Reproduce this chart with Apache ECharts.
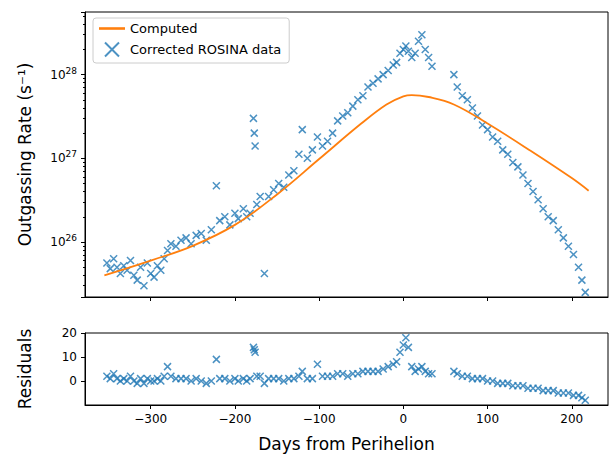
<!DOCTYPE html>
<html><head><meta charset="utf-8">
<script src="https://cdn.jsdelivr.net/npm/echarts@6/dist/echarts.min.js"></script>
<style>html,body{margin:0;background:#fff}#c{width:610px;height:455px}</style>
</head><body><div id="c"></div>
<script>
// ROSINA observations: day from perihelion, outgassing rate (s^-1), residual
const days = [-352,-348,-344,-340,-336,-332,-328,-324,-320,-316,-312,-308,-304,-300,-296,-292,-288,-284,-280,-276,-270,-264,-258,-252,-246,-240,-234,-228,-222,-218,-212,-206,-200,-196,-190,-186,-182,-178,-177,-176,-174,-170,-165,-160,-154,-148,-142,-136,-130,-124,-120,-114,-108,-102,-96,-90,-84,-78,-72,-66,-60,-54,-48,-42,-36,-30,-24,-18,-12,-8,-4,0,3,6,10,14,18,22,26,30,34,60,64,70,76,82,88,94,100,106,112,118,124,130,136,142,148,154,160,166,172,178,184,190,196,202,208,212,216];
const rates = [5.6e25,4.8e25,6.3e25,5.0e25,4.2e25,5.2e25,4.6e25,6.0e25,4.0e25,3.5e25,5.0e25,3.0e25,5.6e25,4.2e25,3.8e25,5.2e25,4.6e25,6.3e25,7.9e25,9.5e25,8.9e25,1.05e26,1.12e26,9.5e25,1.2e26,1.26e26,1.05e26,1.4e26,4.7e26,1.8e26,2.0e26,1.6e26,2.2e26,1.9e26,2.5e26,2.0e26,2.2e26,3.0e27,2.0e27,1.4e27,2.8e26,3.5e26,4.2e25,3.5e26,4.2e26,5.0e26,4.5e26,6.3e26,7.1e26,1.12e27,2.2e27,1.0e27,1.26e27,1.8e27,1.4e27,1.6e27,2.0e27,2.8e27,3.2e27,3.5e27,4.2e27,5.0e27,5.6e27,7.1e27,7.9e27,8.9e27,1.0e28,1.12e28,1.3e28,1.4e28,1.8e28,2.0e28,2.2e28,1.9e28,1.6e28,1.8e28,2.5e28,3.0e28,2.0e28,1.6e28,1.26e28,1.0e28,7.1e27,5.6e27,5.0e27,4.0e27,3.2e27,2.5e27,2.2e27,1.8e27,1.6e27,1.26e27,1.12e27,8.9e26,7.9e26,6.3e26,5.0e26,4.0e26,3.2e26,2.5e26,2.0e26,1.8e26,1.4e26,1.12e26,8.9e25,7.1e25,5.0e25,3.5e25,2.5e25];
const residuals = [2,1,3,1,0,1,0,2,0,-1,1,-1,1,0,0,1,0,2,6,2,1,1,1,0,1,0,-1,0,9,1,1,0,1,0,1,0,1,14,13,12,2,2,-1,1,1,1,0,1,1,2,4,1,1,7,2,2,2,3,3,2,3,3,4,4,4,4,5,6,7,8,12,15,18,14,6,4,5,6,4,3,3,4,3,2,2,1,1,1,0,0,-1,-1,-1,-2,-2,-2,-3,-3,-3,-4,-4,-4,-5,-5,-5,-6,-6,-7,-8];
// model curve
const modelDays = [-355,-300,-250,-200,-150,-100,-50,-20,0,10,30,60,100,150,200,220];
const modelRates = [4.0e25,6.0e25,9.0e25,1.6e26,3.7e26,9.8e26,2.6e27,4.4e27,5.5e27,5.7e27,5.4e27,4.4e27,2.6e27,1.25e27,5.8e26,4.1e26];
const xTicks = [-300,-200,-100,0,100,200];

const blue = '#1f77b4', orange = '#ff7f0e';
const xSym = 'path://M0,0L10,10M10,0L0,10M5,5Z';
const obs = days.map((d, i) => [d, rates[i]]);
const res = days.map((d, i) => [d, residuals[i]]);
const model = modelDays.map((d, i) => [d, modelRates[i]]);
const fmtX = v => String(v).replace('-', '\u2212');
const axLine = {show: true, onZero: false, lineStyle: {color: '#000'}};
const font = 'DejaVu Sans';

const chart = echarts.init(document.getElementById('c'), null, {renderer: 'svg'});
chart.setOption({
  textStyle: {fontFamily: font},
  animation: false,
  grid: [
    {left: 85, right: 2, top: 12, height: 285, show: true, borderColor: '#000', borderWidth: 1},
    {left: 85, right: 2, top: 333, height: 72, show: true, borderColor: '#000', borderWidth: 1}
  ],
  legend: {
    left: 93, top: 18, orient: 'vertical', itemGap: 5, itemWidth: 26,
    borderColor: '#ccc', borderWidth: 1, borderRadius: 3, padding: [4, 8, 4, 6],
    textStyle: {fontSize: 13, color: '#000', fontFamily: font},
    data: [{name: 'Computed', icon: 'path://M0,5L10,5L10,6L0,6Z'}, {name: 'Corrected ROSINA data'}]
  },
  xAxis: [
    {gridIndex: 0, type: 'value', min: -378, max: 243, splitLine: {show: false}, axisLine: axLine,
     axisTick: {customValues: xTicks, length: 4, lineStyle: {color: '#000'}},
     axisLabel: {show: false}},
    {gridIndex: 1, type: 'value', min: -378, max: 243, splitLine: {show: false}, axisLine: axLine,
     axisTick: {customValues: xTicks, length: 4, lineStyle: {color: '#000'}},
     axisLabel: {customValues: xTicks, formatter: fmtX, fontSize: 12, color: '#000'},
     name: 'Days from Perihelion', nameLocation: 'middle', nameGap: 30,
     nameTextStyle: {fontSize: 17, color: '#000'}}
  ],
  yAxis: [
    {gridIndex: 0, type: 'log', min: 2.2e25, max: 5.6e28, splitLine: {show: false}, axisLine: axLine,
     axisTick: {show: true, length: 4, lineStyle: {color: '#000'}},
     minorTick: {show: true, splitNumber: 9, length: 2, lineStyle: {color: '#000'}},
     axisLabel: {showMinLabel: false, showMaxLabel: false, color: '#000',
       formatter: v => '{b|10}{s|' + Math.round(Math.log10(v)) + '}',
       rich: {b: {fontSize: 12, color: '#000'}, s: {fontSize: 9, color: '#000', verticalAlign: 'top', padding: [0, 0, 8, 0]}}},
     name: 'Outgassing Rate (s\u207B\u00B9)', nameLocation: 'middle', nameGap: 52,
     nameTextStyle: {fontSize: 17, color: '#000'}},
    {gridIndex: 1, type: 'value', min: -10, max: 20, interval: 10, splitLine: {show: false}, axisLine: axLine,
     axisTick: {length: 4, lineStyle: {color: '#000'}},
     axisLabel: {fontSize: 12, color: '#000', showMinLabel: false},
     name: 'Residuals', nameLocation: 'middle', nameGap: 52,
     nameTextStyle: {fontSize: 17, color: '#000'}}
  ],
  series: [
    {name: 'Computed', type: 'line', xAxisIndex: 0, yAxisIndex: 0, data: model, smooth: 0.4,
     showSymbol: false, lineStyle: {color: orange, width: 1.8}, itemStyle: {color: orange}, z: 3},
    {name: 'Corrected ROSINA data', type: 'scatter', xAxisIndex: 0, yAxisIndex: 0, data: obs,
     symbol: xSym, symbolSize: 7,
     itemStyle: {color: 'none', borderColor: blue, borderWidth: 1.5}, z: 2},
    {type: 'scatter', xAxisIndex: 1, yAxisIndex: 1, data: res,
     symbol: xSym, symbolSize: 7,
     itemStyle: {color: 'none', borderColor: blue, borderWidth: 1.5}}
  ]
});
</script></body></html>
